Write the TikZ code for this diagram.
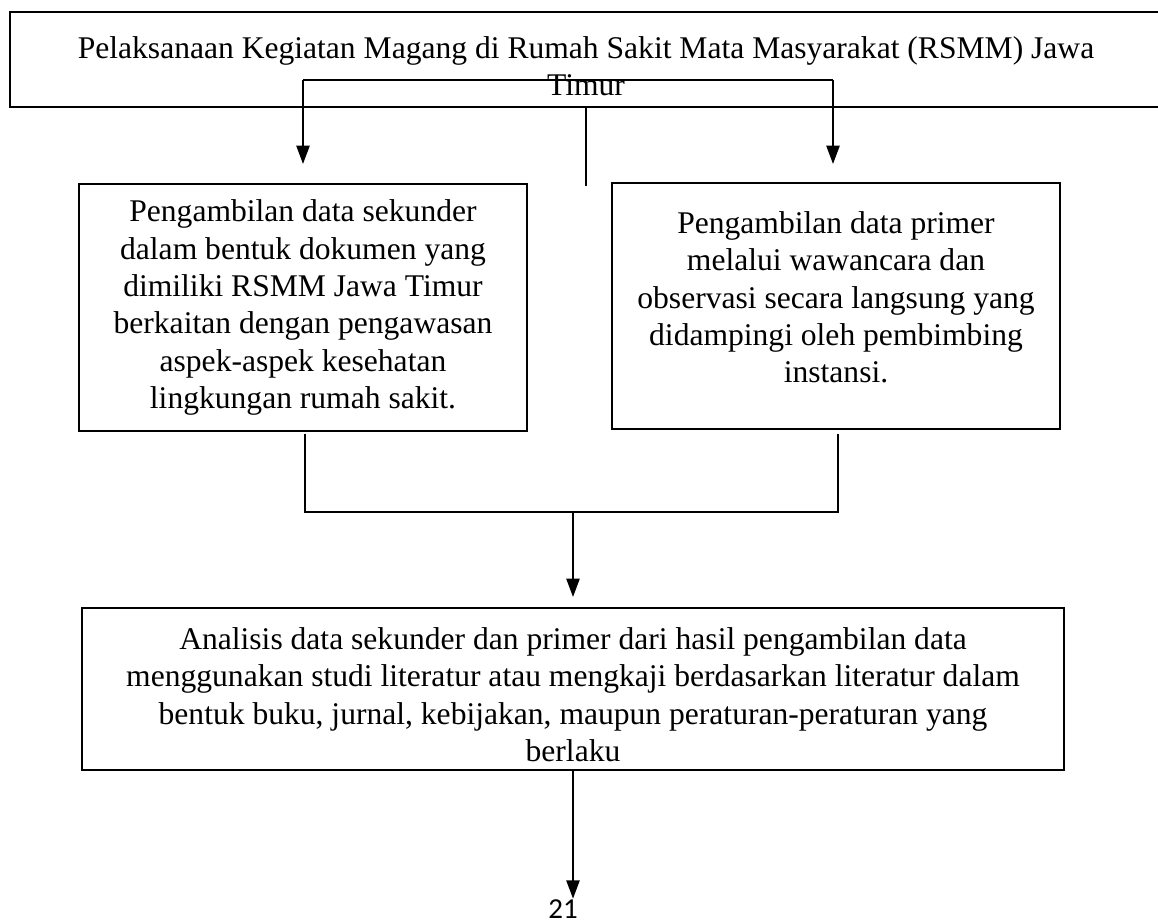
\documentclass[tikz,border=0pt]{standalone}
\usepackage{fontspec}
\setmainfont{Liberation Serif}
\newfontfamily\pagefont{Carlito}
\usepackage{tikz}
\usetikzlibrary{arrows.meta}
\tikzset{font={\fontsize{12pt}{14.2pt}\selectfont}}
% text lines set a little below the middle of their box
\newcommand{\sunk}[2]{\raisebox{-#1}[\height][\depth]{\begin{tabular}{@{}c@{}}#2\end{tabular}}}

\begin{document}
\begin{tikzpicture}[
  x=0.38pt, y=-0.38pt,
  box/.style={rectangle, draw, line width=1pt, align=center, inner sep=2pt},
  link/.style={line width=0.8pt},
  arr/.style={-{Triangle[length=7pt, width=5pt]}, line width=0.8pt}
]
\useasboundingbox (0,0) rectangle (1158,922);
% boxes
\node[box, minimum width=437.8pt, minimum height=36.1pt] (kegiatan) at (586,59.5)
  {\sunk{3.8pt}{Pelaksanaan Kegiatan Magang di Rumah Sakit Mata Masyarakat (RSMM) Jawa\\Timur}};
\node[box, minimum width=170.2pt, minimum height=93.9pt] (sekunder) at (303,307.5)
  {Pengambilan data sekunder\\dalam bentuk dokumen yang\\dimiliki RSMM Jawa Timur\\berkaitan dengan pengawasan\\aspek-aspek kesehatan\\lingkungan rumah sakit.};
\node[box, minimum width=170.2pt, minimum height=93.5pt] (primer) at (836,306)
  {\sunk{-2pt}{Pengambilan data primer\\melalui wawancara dan\\observasi secara langsung yang\\didampingi oleh pembimbing\\instansi.}};
\node[box, minimum width=373.2pt, minimum height=61.6pt] (analisis) at (573,689)
  {\sunk{3.4pt}{Analisis data sekunder dan primer dari hasil pengambilan data\\menggunakan studi literatur atau mengkaji berdasarkan literatur dalam\\bentuk buku, jurnal, kebijakan, maupun peraturan-peraturan yang\\berlaku}};
\node[font={\pagefont\fontsize{11pt}{13pt}\selectfont}, anchor=base, inner sep=0pt] (hal) at (563,918) {21};

% split from the top box
\coordinate (splitL) at (303,80);
\coordinate (splitR) at (833,80);
\coordinate (stub) at (586,186);
\draw[link] (splitL) -- (splitR);
\draw[arr] (splitL) -- (splitL |- 0,164);
\draw[arr] (splitR) -- (splitR |- 0,164);
\draw[link] (kegiatan.south -| stub) -- (stub);

% join into the analysis box
\coordinate (joinL) at (305,512);
\coordinate (joinR) at (838,512);
\coordinate (joinM) at (573,512);
\draw[link] (joinL |- 0,434) -- (joinL) -- (joinR) -- (joinR |- 0,434);
\draw[arr] (joinM) -- (joinM |- 0,597);
\draw[arr] (analisis.south) -- (analisis.south |- hal.north);
\end{tikzpicture}
\end{document}
